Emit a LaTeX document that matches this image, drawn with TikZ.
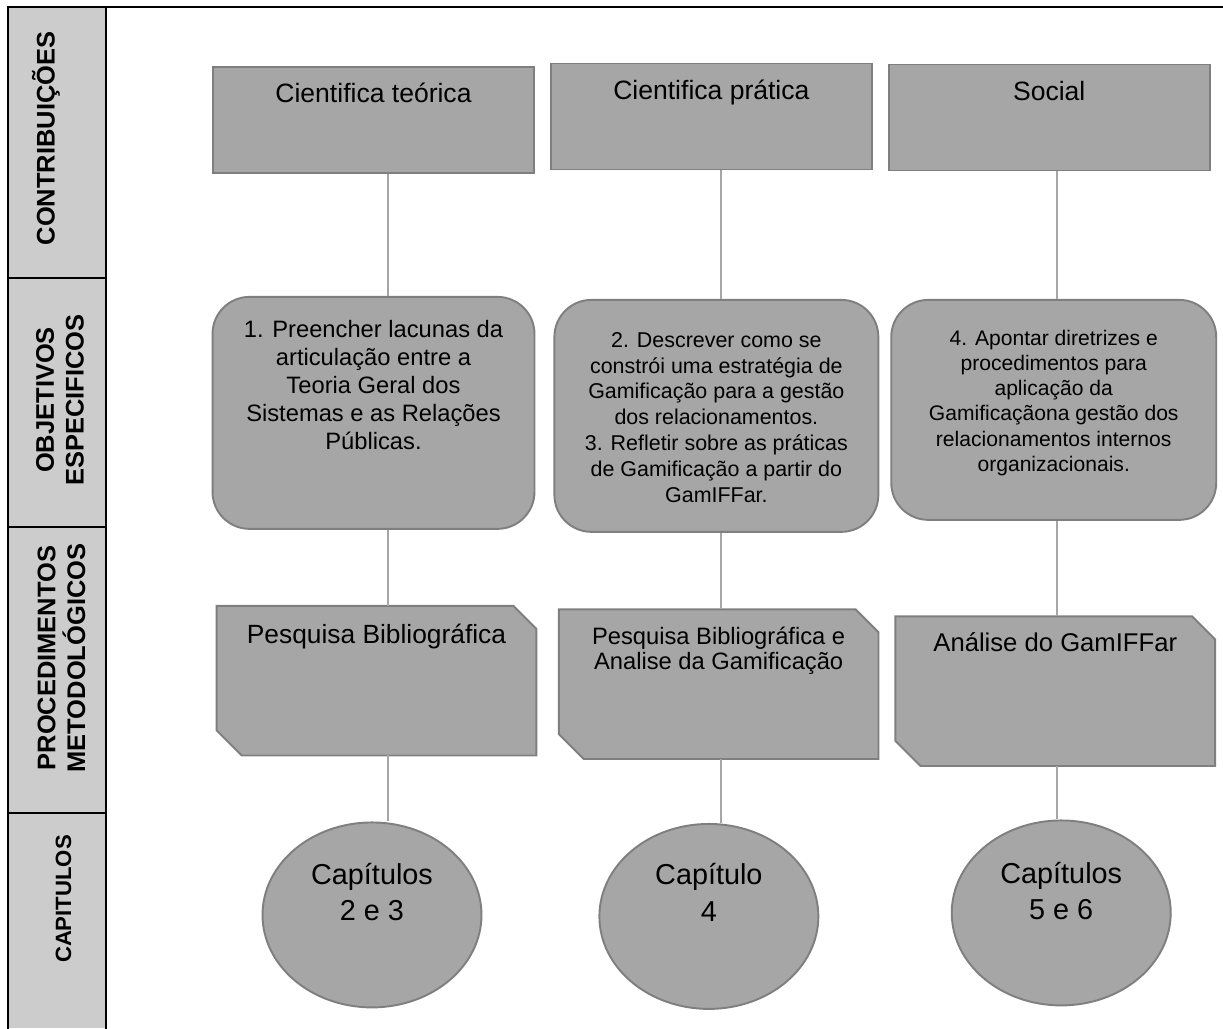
\documentclass[tikz,border=0pt]{standalone}
\usepackage{fontspec}
\setmainfont{Liberation Sans}
\usetikzlibrary{shapes.geometric, positioning, backgrounds}

\definecolor{colfill}{HTML}{CCCCCC}
\definecolor{boxfill}{HTML}{A6A6A6}
\definecolor{boxline}{HTML}{7F7F7F}
\definecolor{linkgray}{HTML}{A6A6A6}

\newcommand{\fsz}[2]{\fontsize{#1}{#2}\selectfont}

\begin{document}
\begin{tikzpicture}[x=0.02cm, y=-0.02cm,
    frame/.style={line width=1.2pt, black},
    colhead/.style={rotate=90, align=center, inner sep=0pt, font=\bfseries\fsz{14.5}{17}},
    basebox/.style={draw=boxline, fill=boxfill, line width=1.1pt, inner sep=0pt},
    topbox/.style={basebox, minimum width=6.42cm, minimum height=2.12cm},
    objbox/.style={basebox, rounded corners=0.74cm},
    procbox/.style={inner sep=0pt, minimum width=6.38cm, minimum height=2.98cm},
    snip/.style={draw=boxline, fill=boxfill, line width=1.1pt},
    capbox/.style={basebox, ellipse, minimum width=4.38cm, minimum height=3.7cm},
    intext/.style={anchor=north, align=center, inner sep=0pt},
    link/.style={draw=linkgray, line width=0.6pt}
]
\useasboundingbox (0,0) rectangle (1223,1028);

% Left column of the table
\fill[colfill] (8,7) rectangle (106,1028);
\draw[frame] (1223,7) -- (8,7) -- (8,1030);
\draw[frame] (106,7) -- (106,1030);
\foreach \y in {278,527,813}
    \draw[frame] (8,\y) -- (106,\y);

\node[colhead] (hcontr) at (46,138.5) {CONTRIBUIÇÕES};
\node[colhead] (hobj) at (60,400) {OBJETIVOS\\ESPECIFICOS};
\node[colhead] (hproc) at (61.5,658) {PROCEDIMENTOS\\METODOLÓGICOS};
\node[colhead, font=\bfseries\fsz{12.6}{15}] (hcap) at (63.5,899) {CAPITULOS};

% Contributions
\node[topbox,
    label={[intext, yshift=-0.34cm, font=\fsz{15.1}{18}]north:{Cientifica teórica}}
] (contr1) at (373.5,120) {};

\node[topbox,
    right=0.3cm of contr1, yshift=0.07cm,
    label={[intext, yshift=-0.34cm, font=\fsz{15.1}{18}]north:{Cientifica prática}}
] (contr2) {};

\node[topbox,
    right=0.3cm of contr2, yshift=-0.02cm,
    label={[intext, yshift=-0.34cm, font=\fsz{15.1}{18}]north:{Social}}
] (contr3) {};

% Specific objectives
\node[objbox,
    below=2.44cm of contr1,
    minimum width=6.44cm, minimum height=4.64cm,
    label={[intext, yshift=-0.48cm, font=\fsz{13.5}{15.9}]north:{1. Preencher lacunas da\\articulação entre a\\Teoria Geral dos\\Sistemas e as Relações\\Públicas.}}
] (obj1) {};

\node[objbox,
    right=0.36cm of obj1, yshift=-0.06cm,
    minimum width=6.48cm, minimum height=4.64cm,
    label={[intext, yshift=-0.66cm, font=\fsz{12.2}{14.7}]north:{2. Descrever como se\\constrói uma estratégia de\\Gamificação para a gestão\\dos relacionamentos.\\3. Refletir sobre as práticas\\de Gamificação a partir do\\GamIFFar.}}
] (obj2) {};

\node[objbox,
    right=0.22cm of obj2, yshift=0.12cm,
    minimum width=6.5cm, minimum height=4.4cm,
    label={[intext, yshift=-0.62cm, font=\fsz{12}{14.3}]north:{4. Apontar diretrizes e\\procedimentos para\\aplicação da\\Gamificaçãona gestão dos\\relacionamentos internos\\organizacionais.}}
] (obj3) {};

% Methodological procedures
\node[procbox,
    below=1.52cm of obj1, xshift=0.06cm,
    label={[intext, yshift=-0.36cm, font=\fsz{15}{18}]north:{Pesquisa Bibliográfica}}
] (proc1) {};

\node[procbox,
    right=0.45cm of proc1, yshift=-0.07cm,
    label={[intext, yshift=-0.34cm, font=\fsz{13.5}{14.2}]north:{Pesquisa Bibliográfica e\\Analise da Gamificação}}
] (proc2) {};

\node[procbox,
    right=0.34cm of proc2, yshift=-0.14cm,
    label={[intext, yshift=-0.32cm, font=\fsz{14.6}{17}]north:{Análise do GamIFFar}}
] (proc3) {};

% snipped corners behind the procedure texts
\begin{scope}[on background layer]
\foreach \p in {proc1,proc2,proc3}
    \draw[snip] (\p.north west) -- ([xshift=-0.46cm]\p.north east)
        -- ([yshift=-0.46cm]\p.north east) -- (\p.south east)
        -- ([xshift=0.5cm]\p.south west) -- ([yshift=0.5cm]\p.south west) -- cycle;
\end{scope}

% Chapters
\node[capbox,
    below=1.32cm of proc1, xshift=-0.09cm,
    label={[intext, yshift=-0.82cm, font=\fsz{16.4}{21}]north:{Capítulos\\2 e 3}}
] (cap1) {};

\node[capbox,
    right=2.32cm of cap1, yshift=-0.03cm,
    label={[intext, yshift=-0.8cm, font=\fsz{16.4}{21}]north:{Capítulo\\4}}
] (cap2) {};

\node[capbox,
    right=2.63cm of cap2, yshift=0.07cm,
    label={[intext, yshift=-0.84cm, font=\fsz{16.4}{21}]north:{Capítulos\\5 e 6}}
] (cap3) {};

% Links
\coordinate (l1) at (388,0);
\coordinate (l2) at (721,0);
\coordinate (l3) at (1057,0);
\foreach \c in {1,2,3}
    \draw[link] (contr\c.south -| l\c) -- (obj\c.north -| l\c)
                (obj\c.south -| l\c) -- (proc\c.north -| l\c)
                (proc\c.south -| l\c) -- (cap\c.north -| l\c);

\end{tikzpicture}
\end{document}
